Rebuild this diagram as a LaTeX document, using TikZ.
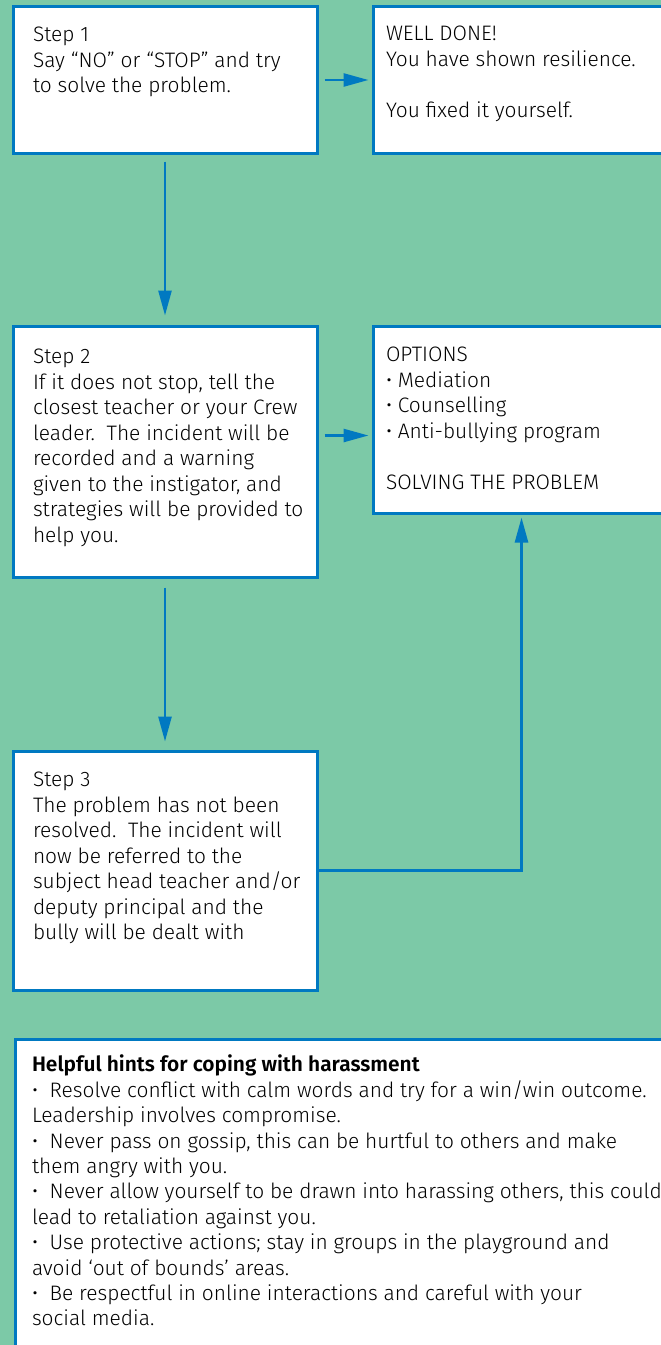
\documentclass[tikz,border=0pt]{standalone}
\usepackage{fontspec}
\setmainfont{Fira Sans}[UprightFont=* Light, BoldFont=* SemiBold]
\usetikzlibrary{positioning,arrows.meta}

\definecolor{bggreen}{RGB}{124,201,167}
\definecolor{lineblue}{RGB}{0,121,193}

\tikzset{
    stepbox/.style={draw=lineblue, line width=3bp, fill=white, inner xsep=20bp, inner ysep=22bp, align=left},
    flow/.style={draw=lineblue, line width=2.6bp, -{Triangle[length=25bp,width=13bp]}},
}
% top aligned lines of a fixed box: #1 width, #2 height, #3 shift down, #4 lines
\newcommand{\boxtext}[4]{\parbox[c][#2][t]{#1}{\vspace*{#3}\begin{tabular}{@{}l@{}}#4\end{tabular}}}

\begin{document}
\begin{tikzpicture}[x=1bp,y=-1bp,font=\fontsize{21}{25.6}\selectfont]
    \fill [bggreen] (0,0) rectangle (661,1345);
    \useasboundingbox (0,0) rectangle (661,1345);

    \node [stepbox, anchor=north west] (step1) at (11.5,5.5) {\boxtext{264bp}{102bp}{-5bp}{Step 1\\ Say “NO” or “STOP” and try\\ to solve the problem.}};
    \node [stepbox, inner xsep=13bp] (done) [right=53bp of step1] {\boxtext{271bp}{102bp}{-6bp}{WELL DONE!\\ You have shown resilience.\\[25.6bp] You fixed it yourself.}};
    \node [stepbox] (step2) [below=170bp of step1] {\boxtext{264bp}{207bp}{-2bp}{Step 2\\ If it does not stop, tell the\\ closest teacher or your Crew\\ leader.\ \ The incident will be\\ recorded and a warning\\ given to the instigator, and\\ strategies will be provided to\\ help you.}};
    \node [stepbox, inner xsep=13bp] (options) [right=53bp of step2.north east, anchor=north west] {\boxtext{271bp}{143bp}{-4bp}{OPTIONS\\ • Mediation\\ • Counselling\\ • Anti-bullying program\\[25.6bp] SOLVING THE PROBLEM}};
    \node [stepbox] (step3) [below=171bp of step2] {\boxtext{264bp}{195bp}{-4bp}{Step 3\\ The problem has not been\\ resolved.\ \ The incident will\\ now be referred to the\\ subject head teacher and/or\\ deputy principal and the\\ bully will be dealt with}};
    \node [stepbox, inner xsep=17bp, font=\fontsize{21}{25.5}\selectfont] (hints) [below=46bp of step3.south west, anchor=north west, xshift=2bp] {\boxtext{680bp}{360bp}{-7bp}{\textbf{Helpful hints for coping with harassment}\\ •\ \ Resolve conflict with calm words and try for a win/win outcome.\\ Leadership involves compromise.\\ •\ \ Never pass on gossip, this can be hurtful to others and make\\ them angry with you.\\ •\ \ Never allow yourself to be drawn into harassing others, this could\\ lead to retaliation against you.\\ •\ \ Use protective actions; stay in groups in the playground and\\ avoid ‘out of bounds’ areas.\\ •\ \ Be respectful in online interactions and careful with your\\ social media.}};

    \coordinate (in2) at ([yshift=-16bp]options.west);
    \draw [flow, shorten <=6bp, shorten >=3bp] (step1) -- (done);
    \draw [flow, shorten <=7bp, shorten >=9bp] (step1) -- (step2);
    \draw [flow, shorten <=6bp, shorten >=3bp] (in2 -| step2.east) -- (in2);
    \draw [flow, shorten <=9bp, shorten >=8bp] (step2) -- (step3);
    \draw [flow, shorten >=3bp] (step3) -| (options);
\end{tikzpicture}
\end{document}
